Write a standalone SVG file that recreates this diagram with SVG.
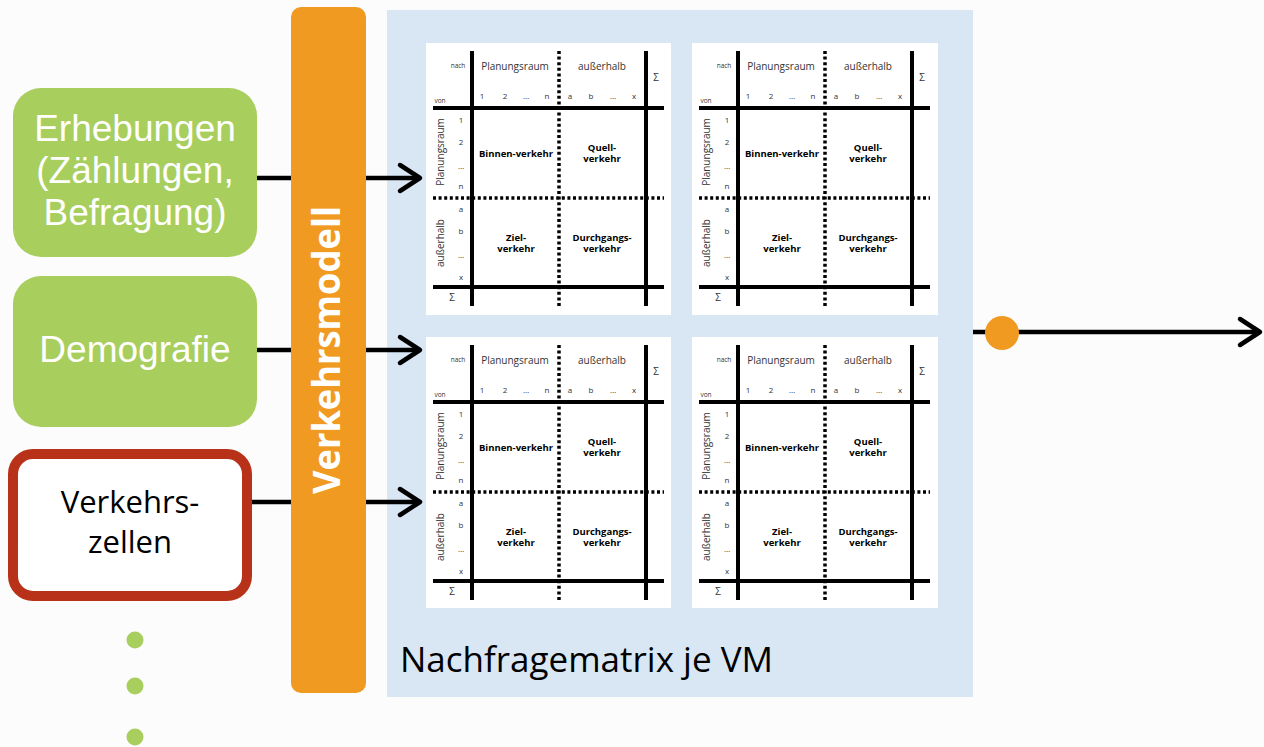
<svg xmlns="http://www.w3.org/2000/svg" width="1264" height="747" viewBox="0 0 1264 747">
<defs>
<style>
.f{font-family:"Open Sans","Noto Sans","DejaVu Sans",sans-serif}
.green{fill:#A8CE5E}
.mp{fill:#FFFFFF}
.sl{stroke:#000;stroke-width:4;fill:none}
.dl{stroke:#000;stroke-width:3.5;stroke-dasharray:3 2.6;fill:none}
.t10{font-size:10px;fill:#333;text-anchor:middle}
.t8{font-size:8px;fill:#333;text-anchor:middle}
.t6{font-size:6.5px;fill:#333;text-anchor:middle}
.tb{font-size:9.5px;font-weight:bold;fill:#000;text-anchor:middle}
.conn{stroke:#000;stroke-width:4.5;fill:none}
.big{font-family:"Liberation Sans","Arial",sans-serif;font-size:37px;fill:#FFFFFF;text-anchor:middle}
</style>
<marker id="chev" markerUnits="userSpaceOnUse" markerWidth="30" markerHeight="34" refX="26" refY="17" orient="auto" viewBox="0 0 30 34">
<path d="M6 4 L26 17 L6 30" fill="none" stroke="#000" stroke-width="4.5" stroke-linecap="round" stroke-linejoin="round"/>
</marker>
</defs>
<rect width="1264" height="747" fill="#FCFCFC"/>

<g id="panel">
<rect x="387" y="10" width="586" height="687" fill="#D9E7F4"/>
<text class="f" x="400" y="672" font-size="35" fill="#000">Nachfragematrix je VM</text>
</g>

<g id="verkehrsmodell">
<rect x="291" y="7" width="75" height="686" rx="10" fill="#F09A22"/>
<text class="f" transform="translate(340,350) rotate(-90)" text-anchor="middle" font-size="37" font-weight="bold" fill="#FFFFFF" textLength="288" lengthAdjust="spacingAndGlyphs">Verkehrsmodell</text>
</g>

<g id="erhebungen">
<rect class="green" x="13" y="88" width="244" height="169" rx="28"/>
<text class="big" x="135" y="141">Erhebungen<tspan x="135" dy="42">(Zählungen,</tspan><tspan x="135" dy="42">Befragung)</tspan></text>
</g>

<g id="demografie">
<rect class="green" x="13" y="276" width="244" height="151" rx="28"/>
<text class="big" x="135" y="362">Demografie</text>
</g>

<g id="verkehrszellen">
<rect x="13" y="454" width="234" height="142" rx="20" fill="#FFFFFF" stroke="#B8321A" stroke-width="10"/>
<text class="f" x="130" y="513" font-size="31" fill="#000" text-anchor="middle">Verkehrs-<tspan x="130" dy="40">zellen</tspan></text>
</g>

<g id="more">
<circle class="green" cx="135" cy="640" r="8.5"/>
<circle class="green" cx="135" cy="686" r="8.5"/>
<circle class="green" cx="135" cy="737" r="8.5"/>
</g>

<g id="connectors">
<path class="conn" d="M257 178H291"/>
<path class="conn" d="M366 178H420" marker-end="url(#chev)"/>
<path class="conn" d="M257 350H291"/>
<path class="conn" d="M366 350H420" marker-end="url(#chev)"/>
<path class="conn" d="M252 502H291"/>
<path class="conn" d="M366 502H420" marker-end="url(#chev)"/>
<path class="conn" d="M973 332H1260" marker-end="url(#chev)"/>
<circle cx="1002" cy="333" r="17" fill="#F09A22"/>
</g>

<g id="matrix-tl" class="f" transform="translate(426,43)">
<rect class="mp" width="245" height="272"/>
<path class="sl" d="M46 8V263M220 8V263M7 65H238M7 244H238"/>
<path class="dl" d="M133 8V263M7 155H238"/>
<text class="t6" x="32" y="25">nach</text>
<text class="t6" x="14" y="60">von</text>
<text class="t10" x="89" y="27">Planungsraum</text>
<text class="t10" x="176" y="27">außerhalb</text>
<text class="t10" x="230" y="38">Σ</text>
<text class="t8" x="56" y="56">1</text><text class="t8" x="79" y="56">2</text><text class="t8" x="100" y="56">…</text><text class="t8" x="121" y="56">n</text>
<text class="t8" x="144" y="56">a</text><text class="t8" x="165" y="56">b</text><text class="t8" x="187" y="56">…</text><text class="t8" x="208" y="56">x</text>
<text class="t8" x="35" y="80">1</text><text class="t8" x="35" y="102">2</text><text class="t8" x="35" y="126">…</text><text class="t8" x="35" y="146">n</text>
<text class="t8" x="35" y="169">a</text><text class="t8" x="35" y="191">b</text><text class="t8" x="35" y="215">…</text><text class="t8" x="35" y="237">x</text>
<text class="t10" x="26" y="258">Σ</text>
<text class="t10" transform="translate(17.5,109) rotate(-90)">Planungsraum</text>
<text class="t10" transform="translate(17.5,200) rotate(-90)">außerhalb</text>
<text class="tb" x="90" y="113.5">Binnen-verkehr</text>
<text class="tb" x="176" y="107.5">Quell-<tspan x="176" dy="11">verkehr</tspan></text>
<text class="tb" x="90" y="197.5">Ziel-<tspan x="90" dy="11">verkehr</tspan></text>
<text class="tb" x="176" y="197.5">Durchgangs-<tspan x="176" dy="11">verkehr</tspan></text>
</g>

<g id="matrix-tr" class="f" transform="translate(692,43)">
<rect class="mp" width="246" height="272"/>
<path class="sl" d="M46 8V263M220 8V263M7 65H238M7 244H238"/>
<path class="dl" d="M133 8V263M7 155H238"/>
<text class="t6" x="32" y="25">nach</text>
<text class="t6" x="14" y="60">von</text>
<text class="t10" x="89" y="27">Planungsraum</text>
<text class="t10" x="176" y="27">außerhalb</text>
<text class="t10" x="230" y="38">Σ</text>
<text class="t8" x="56" y="56">1</text><text class="t8" x="79" y="56">2</text><text class="t8" x="100" y="56">…</text><text class="t8" x="121" y="56">n</text>
<text class="t8" x="144" y="56">a</text><text class="t8" x="165" y="56">b</text><text class="t8" x="187" y="56">…</text><text class="t8" x="208" y="56">x</text>
<text class="t8" x="35" y="80">1</text><text class="t8" x="35" y="102">2</text><text class="t8" x="35" y="126">…</text><text class="t8" x="35" y="146">n</text>
<text class="t8" x="35" y="169">a</text><text class="t8" x="35" y="191">b</text><text class="t8" x="35" y="215">…</text><text class="t8" x="35" y="237">x</text>
<text class="t10" x="26" y="258">Σ</text>
<text class="t10" transform="translate(17.5,109) rotate(-90)">Planungsraum</text>
<text class="t10" transform="translate(17.5,200) rotate(-90)">außerhalb</text>
<text class="tb" x="90" y="113.5">Binnen-verkehr</text>
<text class="tb" x="176" y="107.5">Quell-<tspan x="176" dy="11">verkehr</tspan></text>
<text class="tb" x="90" y="197.5">Ziel-<tspan x="90" dy="11">verkehr</tspan></text>
<text class="tb" x="176" y="197.5">Durchgangs-<tspan x="176" dy="11">verkehr</tspan></text>
</g>

<g id="matrix-bl" class="f" transform="translate(426,337)">
<rect class="mp" width="245" height="271"/>
<path class="sl" d="M46 8V263M220 8V263M7 65H238M7 244H238"/>
<path class="dl" d="M133 8V263M7 155H238"/>
<text class="t6" x="32" y="25">nach</text>
<text class="t6" x="14" y="60">von</text>
<text class="t10" x="89" y="27">Planungsraum</text>
<text class="t10" x="176" y="27">außerhalb</text>
<text class="t10" x="230" y="38">Σ</text>
<text class="t8" x="56" y="56">1</text><text class="t8" x="79" y="56">2</text><text class="t8" x="100" y="56">…</text><text class="t8" x="121" y="56">n</text>
<text class="t8" x="144" y="56">a</text><text class="t8" x="165" y="56">b</text><text class="t8" x="187" y="56">…</text><text class="t8" x="208" y="56">x</text>
<text class="t8" x="35" y="80">1</text><text class="t8" x="35" y="102">2</text><text class="t8" x="35" y="126">…</text><text class="t8" x="35" y="146">n</text>
<text class="t8" x="35" y="169">a</text><text class="t8" x="35" y="191">b</text><text class="t8" x="35" y="215">…</text><text class="t8" x="35" y="237">x</text>
<text class="t10" x="26" y="258">Σ</text>
<text class="t10" transform="translate(17.5,109) rotate(-90)">Planungsraum</text>
<text class="t10" transform="translate(17.5,200) rotate(-90)">außerhalb</text>
<text class="tb" x="90" y="113.5">Binnen-verkehr</text>
<text class="tb" x="176" y="107.5">Quell-<tspan x="176" dy="11">verkehr</tspan></text>
<text class="tb" x="90" y="197.5">Ziel-<tspan x="90" dy="11">verkehr</tspan></text>
<text class="tb" x="176" y="197.5">Durchgangs-<tspan x="176" dy="11">verkehr</tspan></text>
</g>

<g id="matrix-br" class="f" transform="translate(692,337)">
<rect class="mp" width="246" height="271"/>
<path class="sl" d="M46 8V263M220 8V263M7 65H238M7 244H238"/>
<path class="dl" d="M133 8V263M7 155H238"/>
<text class="t6" x="32" y="25">nach</text>
<text class="t6" x="14" y="60">von</text>
<text class="t10" x="89" y="27">Planungsraum</text>
<text class="t10" x="176" y="27">außerhalb</text>
<text class="t10" x="230" y="38">Σ</text>
<text class="t8" x="56" y="56">1</text><text class="t8" x="79" y="56">2</text><text class="t8" x="100" y="56">…</text><text class="t8" x="121" y="56">n</text>
<text class="t8" x="144" y="56">a</text><text class="t8" x="165" y="56">b</text><text class="t8" x="187" y="56">…</text><text class="t8" x="208" y="56">x</text>
<text class="t8" x="35" y="80">1</text><text class="t8" x="35" y="102">2</text><text class="t8" x="35" y="126">…</text><text class="t8" x="35" y="146">n</text>
<text class="t8" x="35" y="169">a</text><text class="t8" x="35" y="191">b</text><text class="t8" x="35" y="215">…</text><text class="t8" x="35" y="237">x</text>
<text class="t10" x="26" y="258">Σ</text>
<text class="t10" transform="translate(17.5,109) rotate(-90)">Planungsraum</text>
<text class="t10" transform="translate(17.5,200) rotate(-90)">außerhalb</text>
<text class="tb" x="90" y="113.5">Binnen-verkehr</text>
<text class="tb" x="176" y="107.5">Quell-<tspan x="176" dy="11">verkehr</tspan></text>
<text class="tb" x="90" y="197.5">Ziel-<tspan x="90" dy="11">verkehr</tspan></text>
<text class="tb" x="176" y="197.5">Durchgangs-<tspan x="176" dy="11">verkehr</tspan></text>
</g>
</svg>
